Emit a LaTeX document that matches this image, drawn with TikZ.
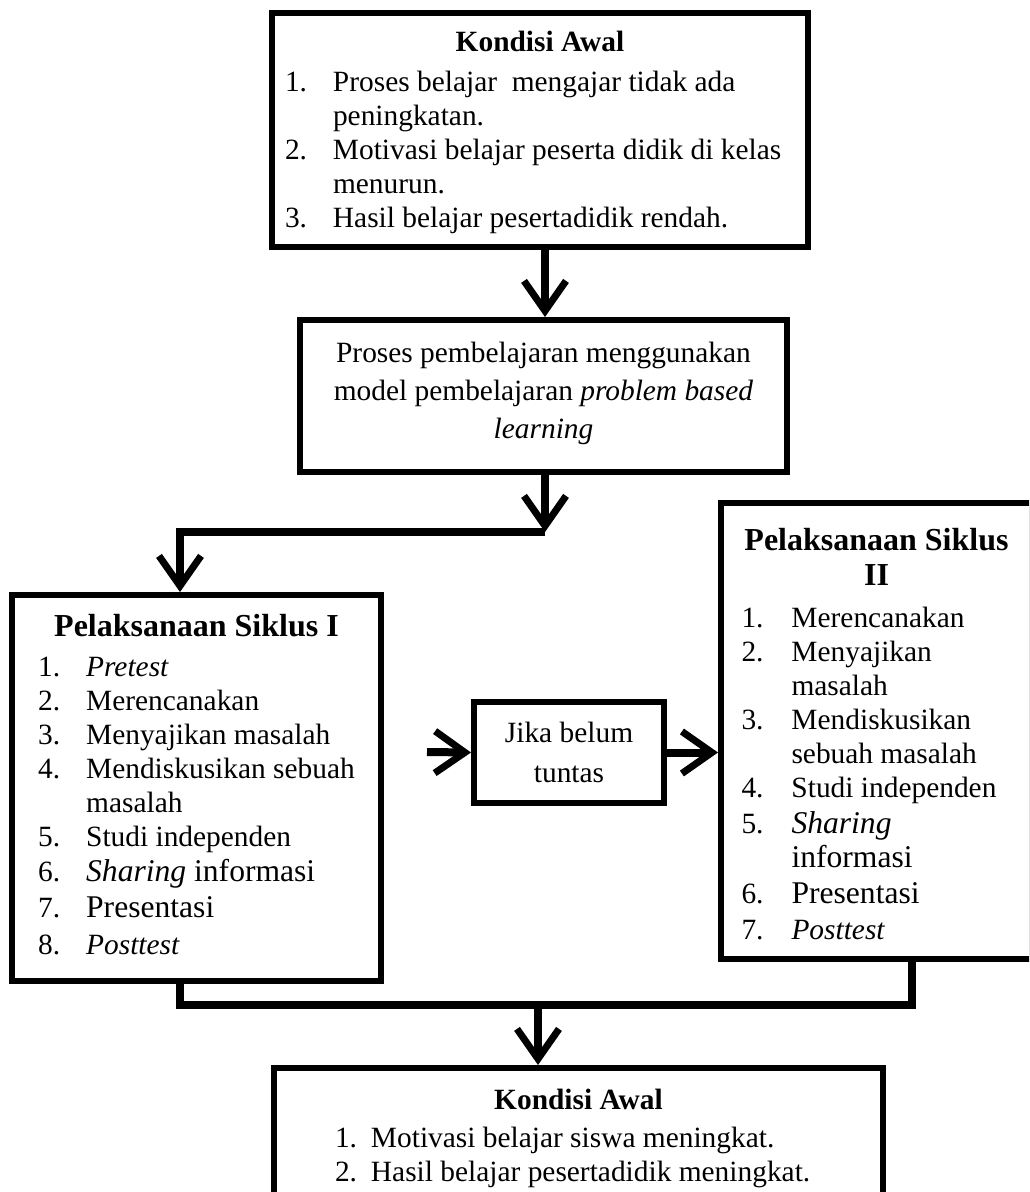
\documentclass[tikz,border=0pt]{standalone}
\usepackage{fontspec}
\setmainfont{Liberation Serif}
\usetikzlibrary{arrows.meta}

\newcommand{\titlebig}{\fontsize{16}{17}\selectfont\bfseries}
\newcommand{\itembig}{\fontsize{15.8}{17}\selectfont}

\tikzset{
  box/.style={draw, rectangle, line width=3pt, inner sep=0pt},
  txt/.style={inner sep=0pt, align=center, font=\fontsize{14.7}{17}\selectfont},
  arr/.style={line width=4pt, -{Straight Barb[length=15pt, width=21pt, line width=3.5pt]}},
  link/.style={line width=4pt},
}

\begin{document}
\begin{tikzpicture}[x=0.5pt, y=-0.5pt]
  \useasboundingbox[fill=white] (0,0) rectangle (1029,1192);
  \clip (0,0) rectangle (1029,1192);

  % boxes
  \node[box, minimum width=268pt, minimum height=117pt] (awal) at (540,130) {};
  \node[box, minimum width=243.5pt, minimum height=76pt] (proses) at (543.5,396) {};
  \node[box, minimum width=184.5pt, minimum height=193pt] (siklus1) at (196.5,788) {};
  \node[box, minimum width=95pt, minimum height=50.5pt] (tuntas) at (569,752.5) {};
  \node[box, minimum width=155.5pt, minimum height=228pt] (siklus2) at (876.5,731) {};
  \node[box, minimum width=304.5pt, minimum height=69pt] (akhir) at (578.5,1137) {};

  % texts
  \node[txt] (awal-txt) at ([yshift=-2pt]awal.center) {%
    {\bfseries Kondisi Awal}\\[3pt]
    \begin{tabular}[t]{@{}p{24pt}@{}p{231pt}@{}}
      1. & Proses belajar\ \ mengajar tidak ada\\
         & peningkatan.\\
      2. & Motivasi belajar peserta didik di kelas\\
         & menurun.\\
      3. & Hasil belajar pesertadidik rendah.
    \end{tabular}};
  \node[txt, font=\fontsize{14.7}{19}\selectfont] (proses-txt)
    at ([yshift=1.5pt]proses.center) {%
    Proses pembelajaran menggunakan\\
    model pembelajaran \textit{problem based}\\
    \textit{learning}};
  \node[txt] (siklus1-txt) at ([yshift=-0.5pt]siklus1.center) {%
    {\titlebig Pelaksanaan Siklus I}\\[3pt]
    \begin{tabular}[t]{@{}p{24pt}@{}l@{}}
      1. & \textit{Pretest}\\
      2. & Merencanakan\\
      3. & Menyajikan masalah\\
      4. & Mendiskusikan sebuah\\
         & masalah\\
      5. & Studi independen\\[0.5pt]
      6. & {\itembig\textit{Sharing} informasi}\\[1pt]
      7. & {\itembig Presentasi}\\[1.5pt]
      8. & \textit{Posttest}
    \end{tabular}};
  \node[txt, font=\fontsize{14.7}{20}\selectfont] (tuntas-txt) at (tuntas.center) {%
    Jika belum\\ tuntas};
  \node[txt] (siklus2-txt) at ([yshift=-4pt]siklus2.center) {%
    {\titlebig Pelaksanaan Siklus}\\[0.5pt]
    {\titlebig II}\\[4pt]
    \begin{tabular}[t]{@{}p{25pt}@{}p{110pt}@{}}
      1. & Merencanakan\\
      2. & Menyajikan\\
         & masalah\\
      3. & Mendiskusikan\\
         & sebuah masalah\\
      4. & Studi independen\\[1pt]
      5. & {\itembig\textit{Sharing}}\\
         & {\itembig informasi}\\[1pt]
      6. & {\itembig Presentasi}\\[1pt]
      7. & \textit{Posttest}
    \end{tabular}};
  \node[txt] (akhir-txt) at ([yshift=-1.5pt]akhir.center) {%
    {\bfseries Kondisi Awal}\\[2pt]
    \begin{tabular}[t]{@{}p{18pt}@{}p{225.5pt}@{}}
      1. & Motivasi belajar siswa meningkat.\\
      2. & Hasil belajar pesertadidik meningkat.
    \end{tabular}};

  % connectors
  \coordinate (split) at (545,532);
  \coordinate (drop) at (180,532);
  \coordinate (start) at (427,752);
  \coordinate (join) at (538,1005);
  \coordinate (left) at (180,1005);
  \coordinate (right) at (912,1005);

  \draw[arr] (awal.south -| split) -- (proses.north -| split);
  \draw[arr] (proses.south -| split) -- (split);
  \draw[arr] (split) -| (siklus1.north -| drop);
  \draw[arr] (start) -- (tuntas.west);
  \draw[arr] (tuntas.east) -- (tuntas.east -| siklus2.west);
  \draw[link] (siklus1.south -| left) |- (right) -- (siklus2.south -| right);
  \draw[arr] (join) -- (akhir.north -| join);
\end{tikzpicture}
\end{document}
